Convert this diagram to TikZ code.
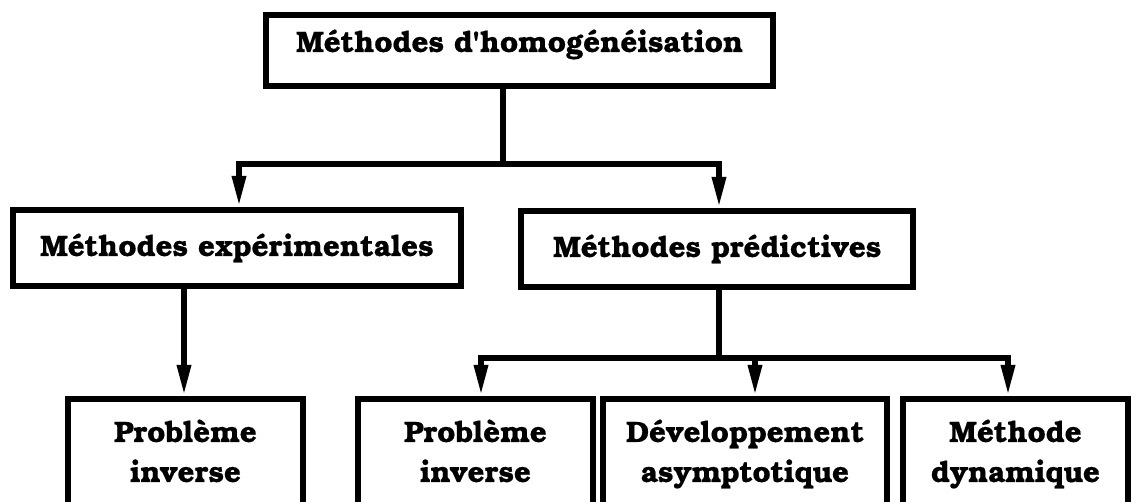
\documentclass[tikz,border=0pt]{standalone}
\usepackage{fontspec}
\newfontfamily\bkfont{texgyrebonum-bold.otf}[FakeBold=0.4]
\usetikzlibrary{arrows.meta}
\begin{document}
\begin{tikzpicture}[x=1pt,y=-1pt,
  box/.style={draw=black, line width=6pt, fill=white, inner ysep=0pt,
              font=\bkfont\fontsize{29.5}{40}\selectfont},
  onebox/.style={box, anchor=west, text height=21pt},
  lbl/.style={inner sep=0pt, anchor=base, font=\bkfont\fontsize{29.5}{40}\selectfont},
  ln/.style={draw=black, line width=6pt},
  arr/.style={ln, -{Triangle[length=31pt,width=13pt]}}]
\useasboundingbox (0,0) rectangle (1136,502);
\fill[white] (0,0) rectangle (1136,502);
\clip (0,0) rectangle (1136,502);
% level 0
\node[onebox, inner xsep=30pt, minimum height=71pt, text depth=18pt] (top) at (263,50.5) {Méthodes d'homogénéisation};
% level 1
\node[onebox, inner xsep=27pt, minimum height=76pt, text depth=5pt] (mexp) at (10,248) {Méthodes expérimentales};
\node[onebox, inner xsep=32pt, minimum height=76pt, text depth=5pt] (mpred) at (518,249) {Méthodes prédictives};
% level 2 frames
\node[box, minimum width=235pt, minimum height=141pt] (b1) at (185.5,469.5) {};
\node[box, minimum width=235pt, minimum height=141pt] (b2) at (475.5,469.5) {};
\node[box, minimum width=284pt, minimum height=141pt] (b3) at (745,469.5) {};
\node[box, minimum width=225pt, minimum height=141pt] (b4) at (1015.5,469.5) {};
% level 2 texts
\node[lbl] (b1t) at (185.5,442) {\begin{tabular}[t]{@{}c@{}}Problème\\inverse\end{tabular}};
\node[lbl] (b2t) at (475.5,442) {\begin{tabular}[t]{@{}c@{}}Problème\\inverse\end{tabular}};
\node[lbl] (b3t) at (745,442) {\begin{tabular}[t]{@{}c@{}}Développement\\asymptotique\end{tabular}};
\node[lbl] (b4t) at (1015.5,442) {\begin{tabular}[t]{@{}c@{}}Méthode\\dynamique\end{tabular}};
% connector x positions
\coordinate (j1) at (503,164);
\coordinate (xa) at (239,0);
\coordinate (xb) at (719,0);
\coordinate (j2) at (719,358);
\coordinate (x1) at (184,0);
\coordinate (x2) at (481,0);
\coordinate (x3) at (755,0);
\coordinate (x4) at (1008,0);
% connectors
\draw[ln] (top.south -| j1) -- (j1);
\draw[arr] (j1) -| (mexp.north -| xa);
\draw[arr] (j1) -| (mpred.north -| xb);
\draw[arr] (mexp.south -| x1) -- (b1.north -| x1);
\draw[ln] (mpred.south -| j2) -- (j2);
\draw[arr] (j2) -| (b2.north -| x2);
\draw[arr] (j2) -| (b3.north -| x3);
\draw[arr] (j2) -| (b4.north -| x4);
\end{tikzpicture}
\end{document}
